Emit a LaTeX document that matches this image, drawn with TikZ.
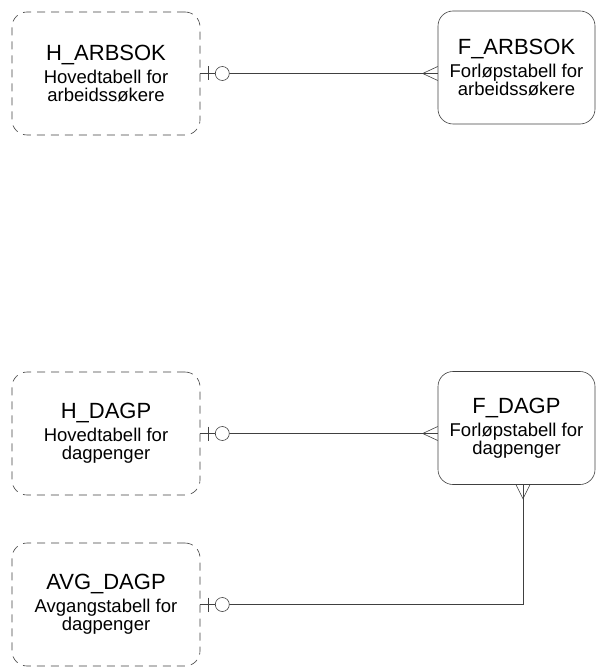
\documentclass[tikz,border=0pt]{standalone}
\usepackage{fontspec}
\setmainfont{Liberation Sans}
\usepackage{tikz}
\usetikzlibrary{positioning, calc}
\tikzset{
	entity/.style={
		rectangle,
		rounded corners=15pt,
		minimum width=157pt,
		minimum height=113pt,
		text centered,
		align=center,
		draw=black!75,
		line width=0.6pt,
		font=\fontsize{18.5}{18}\selectfont
	},
	mainentity/.style={
		entity,
		minimum width=188pt,
		minimum height=123pt,
		dash pattern=on 8pt off 6pt
	},
	relation/.style={draw=black!75, line width=0.6pt}
}
\newcommand{\enttitle}[1]{{\fontsize{22}{22}\selectfont #1}\\[5pt]}

\begin{document}
\begin{tikzpicture}[x=1pt, y=-1pt]
	\useasboundingbox (0,0) rectangle (596,668);
	\node (harbsok) [mainentity] at (106,73.5) {\enttitle{H\_ARBSOK}Hovedtabell for\\arbeidssøkere};
	\node (farbsok) [entity] at (516.5,67.5) {\enttitle{F\_ARBSOK}Forløpstabell for\\arbeidssøkere};
	\node (hdagp) [mainentity] at (106,433.5) {\enttitle{H\_DAGP}Hovedtabell for\\dagpenger};
	\node (fdagp) [entity] at (516.5,428) {\enttitle{F\_DAGP}Forløpstabell for\\dagpenger};
	\node (avgdagp) [mainentity] at (106,604.5) {\enttitle{AVG\_DAGP}Avgangstabell for\\dagpenger};
	\coordinate (fdagpfoot) at ([xshift=6.5pt]fdagp.south);

	% relations
	\draw [relation] (harbsok.east) -- (harbsok.east -| farbsok.west);
	\draw [relation] (hdagp.east) -- (hdagp.east -| fdagp.west);
	\draw [relation] (avgdagp.east) -| (fdagpfoot);

	% zero or one
	\foreach \n in {harbsok, hdagp, avgdagp} {
		\draw [relation] ([xshift=8pt,yshift=7pt]\n.east) -- ([xshift=8pt,yshift=-7pt]\n.east);
		\draw [relation, fill=white] ([xshift=22pt]\n.east) circle (7pt);
	}

	% many
	\draw [relation] ([yshift=7pt]harbsok.east -| farbsok.west) -- ([xshift=-15pt]harbsok.east -| farbsok.west) -- ([yshift=-7pt]harbsok.east -| farbsok.west);
	\draw [relation] ([yshift=7pt]hdagp.east -| fdagp.west) -- ([xshift=-15pt]hdagp.east -| fdagp.west) -- ([yshift=-7pt]hdagp.east -| fdagp.west);
	\draw [relation] ([xshift=-7pt]fdagpfoot) -- ([yshift=-14pt]fdagpfoot) -- ([xshift=7pt]fdagpfoot);
\end{tikzpicture}
\end{document}
